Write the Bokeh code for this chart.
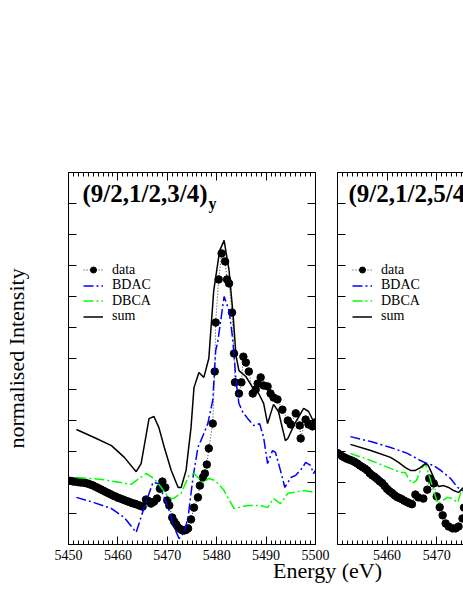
from bokeh.plotting import figure
from bokeh.models import (Range1d, LinearAxis, FixedTicker, Legend, LegendItem, Label)
from bokeh.layouts import row, column
from bokeh.embed import file_html
from bokeh.resources import INLINE

SERIF = "Liberation Serif"

# ---------------- data (energy in eV, normalised intensity in arbitrary units) -------------
x_ticks = [5450, 5460, 5470, 5480, 5490, 5500]
x_minor_ticks = list(range(5450, 5501))
y_ticks = list(range(0, 13))

# Panel 1: (9/2,1/2,3/4)y
p1_data_e = [5450.0, 5450.5, 5451.0, 5451.5, 5452.0, 5452.5, 5453.0, 5453.5, 5454.0, 5454.5,
             5455.0, 5455.5, 5456.0, 5456.5, 5457.0, 5457.5, 5458.0, 5458.5, 5459.0, 5459.5,
             5460.0, 5460.5, 5461.0, 5461.5, 5462.0, 5462.5, 5463.0, 5463.5, 5464.0, 5464.5,
             5465.0, 5465.7, 5466.2, 5466.7, 5467.3, 5467.9, 5468.5, 5469.0, 5469.6, 5470.0,
             5470.4, 5471.0, 5471.4, 5471.8, 5472.2, 5472.6, 5473.0, 5473.4, 5473.8, 5474.2,
             5474.8, 5475.4, 5476.2, 5476.6, 5477.2, 5477.6, 5478.0, 5478.4, 5479.2, 5479.6,
             5479.8, 5480.4, 5481.0, 5481.7, 5482.1, 5482.5, 5483.1, 5483.5, 5483.7, 5484.5,
             5485.0, 5485.4, 5485.9, 5486.5, 5487.3, 5487.9, 5488.3, 5488.9, 5489.5, 5490.3,
             5490.9, 5491.5, 5492.3, 5493.3, 5494.4, 5495.0, 5496.0, 5496.8, 5497.0, 5498.0,
             5498.6, 5499.4, 5500.0]
p1_data_i = [2.06, 2.05, 2.03, 2.03, 2.01, 2.00, 2.00, 1.98, 1.96, 1.93,
             1.90, 1.86, 1.82, 1.78, 1.74, 1.70, 1.66, 1.62, 1.58, 1.55,
             1.51, 1.48, 1.45, 1.42, 1.39, 1.36, 1.33, 1.31, 1.28, 1.25,
             1.22, 1.45, 1.40, 1.32, 1.38, 1.48, 1.80, 2.03, 1.84, 1.42,
             1.26, 0.87, 0.74, 0.65, 0.55, 0.50, 0.46, 0.45, 0.47, 0.52,
             0.81, 1.19, 1.52, 1.90, 2.16, 2.29, 2.58, 3.10, 3.90, 5.58,
             7.16, 8.55, 9.39, 9.13, 8.55, 8.42, 7.48, 6.16, 5.23, 4.87,
             5.23, 6.06, 5.87, 5.58, 4.87, 5.00, 5.19, 5.39, 5.13, 5.10,
             4.87, 4.74, 4.68, 4.35, 4.00, 3.87, 4.23, 3.84, 3.42, 4.03,
             3.87, 3.81, 3.94]

p1_bdac_e = [5451.6, 5455.2, 5458.7, 5461.3, 5463.7, 5465.3, 5467.1, 5468.1, 5468.8, 5470.2,
             5471.4, 5472.4, 5473.4, 5474.2, 5475.2, 5476.2, 5476.8, 5478.2, 5479.2, 5479.8,
             5480.2, 5481.5, 5482.5, 5483.1, 5483.5, 5483.9, 5484.5, 5485.3, 5486.3, 5487.5,
             5488.7, 5489.5, 5490.3, 5491.3, 5491.9, 5492.9, 5493.8, 5495.0, 5496.0, 5497.4,
             5498.0, 5499.0, 5499.6, 5500.0]
p1_bdac_i = [1.52, 1.35, 1.16, 0.87, 0.39, 1.19, 2.00, 1.97, 1.74, 1.19,
             0.55, 0.19, 0.39, 0.87, 2.16, 3.13, 3.35, 3.90, 4.65, 6.26,
             6.52, 8.00, 7.55, 6.81, 6.16, 5.29, 4.55, 4.26, 4.06, 3.84,
             3.90, 3.45, 2.61, 3.03, 2.97, 2.39, 1.84, 2.16, 2.23, 2.48,
             2.65, 2.55, 2.29, 2.39]

p1_dbca_e = [5451.6, 5456.7, 5462.7, 5465.7, 5467.3, 5468.8, 5470.2, 5471.2, 5472.8, 5474.4,
             5475.4, 5477.2, 5478.4, 5479.8, 5481.5, 5483.5, 5486.3, 5488.9, 5490.3, 5491.5,
             5492.9, 5494.4, 5497.6, 5500.0]
p1_dbca_i = [2.16, 2.10, 1.94, 2.29, 2.13, 1.84, 1.52, 1.48, 1.65, 2.23,
             2.29, 2.00, 2.13, 2.06, 1.74, 1.16, 1.26, 1.26, 1.19, 1.48,
             1.32, 1.65, 1.74, 1.68]

p1_sum_e = [5451.6, 5455.2, 5458.7, 5461.3, 5463.7, 5464.7, 5466.3, 5467.3, 5468.3, 5469.4,
            5470.8, 5472.2, 5472.8, 5473.8, 5474.8, 5475.4, 5476.4, 5477.4, 5478.4, 5479.4,
            5480.6, 5481.5, 5482.5, 5483.3, 5483.9, 5484.5, 5485.9, 5487.3, 5488.5, 5489.5,
            5490.3, 5491.5, 5492.5, 5493.9, 5494.4, 5495.8, 5497.6, 5498.6, 5500.0]
p1_sum_i = [3.71, 3.45, 3.19, 2.81, 2.35, 2.61, 4.06, 4.13, 3.77, 3.13,
            2.39, 1.84, 1.84, 2.39, 3.77, 5.06, 5.55, 5.39, 6.00, 8.19,
            9.48, 9.81, 8.84, 7.45, 6.10, 5.61, 5.42, 5.06, 4.87, 4.55,
            3.90, 4.52, 4.29, 3.35, 3.42, 3.90, 4.39, 4.29, 3.84]

# Panel 2: (9/2,1/2,5/4)y  (only the visible part)
p2_data_e = [5450.0, 5450.5, 5451.0, 5451.5, 5452.0, 5452.5, 5453.0, 5453.5, 5454.0, 5454.5,
             5455.0, 5455.5, 5456.0, 5456.5, 5457.0, 5457.5, 5458.0, 5458.5, 5459.0, 5459.5,
             5460.0, 5460.5, 5461.0, 5461.5, 5462.0, 5462.5, 5463.0, 5463.5, 5464.0, 5464.5,
             5465.0, 5465.7, 5466.3, 5467.3, 5468.1, 5468.5, 5469.4, 5470.0, 5470.6, 5471.2,
             5471.8, 5472.4, 5473.2, 5473.8, 5474.4, 5475.2, 5475.5]
p2_data_i = [2.95, 2.90, 2.84, 2.80, 2.76, 2.73, 2.70, 2.66, 2.61, 2.55,
             2.50, 2.45, 2.39, 2.30, 2.23, 2.18, 2.11, 2.04, 1.98, 1.89,
             1.79, 1.72, 1.66, 1.59, 1.53, 1.50, 1.46, 1.41, 1.37, 1.33,
             1.30, 1.61, 1.52, 1.48, 1.77, 2.13, 1.97, 1.55, 1.20, 0.94,
             0.68, 0.58, 0.52, 0.52, 0.58, 0.84, 1.19]

p2_bdac_e = [5452.6, 5456.7, 5460.7, 5464.1, 5466.7, 5468.1, 5469.4, 5470.8, 5472.8, 5474.2, 5475.2, 5476.0]
p2_bdac_i = [3.48, 3.32, 3.13, 2.94, 2.71, 2.61, 2.55, 2.39, 2.13, 1.84, 1.74, 1.70]

p2_dbca_e = [5452.6, 5456.7, 5460.3, 5462.7, 5463.7, 5464.3, 5465.1, 5465.9, 5466.7, 5467.7,
             5468.3, 5469.2, 5470.2, 5471.2, 5472.2, 5473.2, 5474.2, 5475.0, 5475.6]
p2_dbca_i = [2.94, 2.71, 2.48, 2.32, 2.32, 2.13, 1.97, 2.06, 2.39, 2.61,
             2.32, 1.84, 1.32, 1.42, 1.52, 1.48, 1.35, 1.74, 1.95]

p2_sum_e = [5452.6, 5456.7, 5460.7, 5462.3, 5463.7, 5464.7, 5465.7, 5466.7, 5467.7, 5468.3,
            5469.2, 5469.8, 5470.4, 5471.4, 5472.4, 5473.4, 5474.4, 5475.2, 5475.8]
p2_sum_i = [3.23, 3.03, 2.81, 2.65, 2.48, 2.39, 2.39, 2.48, 2.61, 2.55,
            2.23, 2.00, 1.87, 1.90, 1.84, 1.74, 1.68, 1.81, 1.85]

titles = ["(9/2,1/2,3/4)", "(9/2,1/2,5/4)"]
subscript = "y"
legend_labels = ["data", "BDAC", "DBCA", "sum"]
x_label = "Energy (eV)"
y_label = "normalised Intensity"

BLUE = "#0000ff"
GREEN = "#00ff00"

PLOT_H = 567


def make_axis(ticks, minor, labels):
    ax = LinearAxis(ticker=FixedTicker(ticks=ticks, minor_ticks=minor))
    ax.axis_line_color = "black"
    ax.axis_line_width = 1
    ax.major_tick_in = 8
    ax.major_tick_out = 0
    ax.minor_tick_in = 4
    ax.minor_tick_out = 0
    ax.major_tick_line_color = "black"
    ax.minor_tick_line_color = "black" if minor else None
    if labels:
        ax.major_label_text_font = SERIF
        ax.major_label_text_font_size = "14px"
        ax.major_label_text_color = "black"
        ax.major_label_standoff = 5
    else:
        ax.major_label_text_font_size = "1px"
        ax.major_label_text_color = None
        ax.major_label_standoff = 0
    return ax


def make_panel(width, b_left, b_right, x_end, title, data_e, data_i, bdac_e, bdac_i,
               dbca_e, dbca_i, sum_e, sum_i, full_frame, hide_first_label):
    p = figure(width=width, height=PLOT_H, output_backend="svg", toolbar_location=None,
               x_range=Range1d(5450, x_end), y_range=Range1d(0, 12),
               x_axis_location=None, y_axis_location=None,
               min_border_left=b_left, min_border_right=b_right,
               min_border_top=172, min_border_bottom=23)
    p.xgrid.grid_line_color = None
    p.ygrid.grid_line_color = None
    p.background_fill_color = "white"
    p.border_fill_color = "white"
    p.outline_line_color = "black" if full_frame else None

    bottom = make_axis(x_ticks, x_minor_ticks, True)
    if hide_first_label:
        bottom.major_label_overrides = {5450: ""}
    p.add_layout(bottom, "below")
    p.add_layout(make_axis(x_ticks, x_minor_ticks, False), "above")
    left = make_axis(y_ticks, [], False)
    if full_frame:
        left.axis_label = y_label
        left.axis_label_text_font = SERIF
        left.axis_label_text_font_size = "22px"
        left.axis_label_text_font_style = "normal"
        left.axis_label_text_color = "black"
        left.axis_label_standoff = 40
    p.add_layout(left, "left")
    if full_frame:
        p.add_layout(make_axis(y_ticks, [], False), "right")

    r_dline = p.line(data_e, data_i, line_color="black", line_width=0.8, line_dash="1 2")
    r_dpts = p.scatter(data_e, data_i, size=7.5, marker="circle",
                       fill_color="black", line_color="black")
    r_bdac = p.line(bdac_e, bdac_i, line_color=BLUE, line_width=1.5, line_dash="10 3 2 3")
    r_dbca = p.line(dbca_e, dbca_i, line_color=GREEN, line_width=1.5, line_dash="10 3 2 3")
    r_sum = p.line(sum_e, sum_i, line_color="black", line_width=1.5)

    # one legend per row so that rows can sit close together, as in the original
    entries = [[r_dline, r_dpts], [r_bdac], [r_dbca], [r_sum]]
    for i, (lab, rends) in enumerate(zip(legend_labels, entries)):
        lg = Legend(items=[LegendItem(label=lab, renderers=rends)],
                    location=(15, 266.5 - 15.5 * i), orientation="vertical",
                    padding=0, margin=0, spacing=0,
                    glyph_width=20, glyph_height=15, label_height=15, label_standoff=9,
                    border_line_color=None, background_fill_alpha=0,
                    label_text_font=SERIF, label_text_font_size="14px",
                    label_text_color="black")
        p.add_layout(lg)

    p.add_layout(Label(x=14 if full_frame else 11, y=351, x_units="screen", y_units="screen",
                       text=title, text_font=SERIF, text_font_size="25px",
                       text_font_style="bold", text_color="black",
                       text_baseline="alphabetic"))
    p.add_layout(Label(x=140 if full_frame else 137, y=341, x_units="screen", y_units="screen",
                       text=subscript, text_font=SERIF, text_font_size="16px",
                       text_font_style="bold", text_color="black",
                       text_baseline="alphabetic"))
    return p


p1 = make_panel(330, 67, 15, 5500, titles[0], p1_data_e, p1_data_i, p1_bdac_e, p1_bdac_i,
                p1_dbca_e, p1_dbca_i, p1_sum_e, p1_sum_i, True, False)
p2 = make_panel(133, 7, 0, 5475.4, titles[1], p2_data_e, p2_data_i, p2_bdac_e, p2_bdac_i,
                p2_dbca_e, p2_dbca_i, p2_sum_e, p2_sum_i, False, True)

# shared x axis title (transparent strip overlapping the panels' bottom border a little)
px = figure(width=463, height=44, output_backend="svg", toolbar_location=None,
            x_axis_location=None, y_axis_location=None, min_border=0,
            x_range=Range1d(0, 1), y_range=Range1d(0, 1), margin=(-13, 0, 0, 0))
px.outline_line_color = None
px.xgrid.grid_line_color = None
px.ygrid.grid_line_color = None
px.background_fill_alpha = 0
px.border_fill_alpha = 0
px.add_layout(Label(x=327, y=28, x_units="screen", y_units="screen", text=x_label,
                    text_align="center", text_baseline="alphabetic",
                    text_font=SERIF, text_font_size="22px", text_color="black"))

layout = column(row(p1, p2, spacing=0), px, spacing=0)

open("out.html", "w").write(file_html(layout, INLINE))
